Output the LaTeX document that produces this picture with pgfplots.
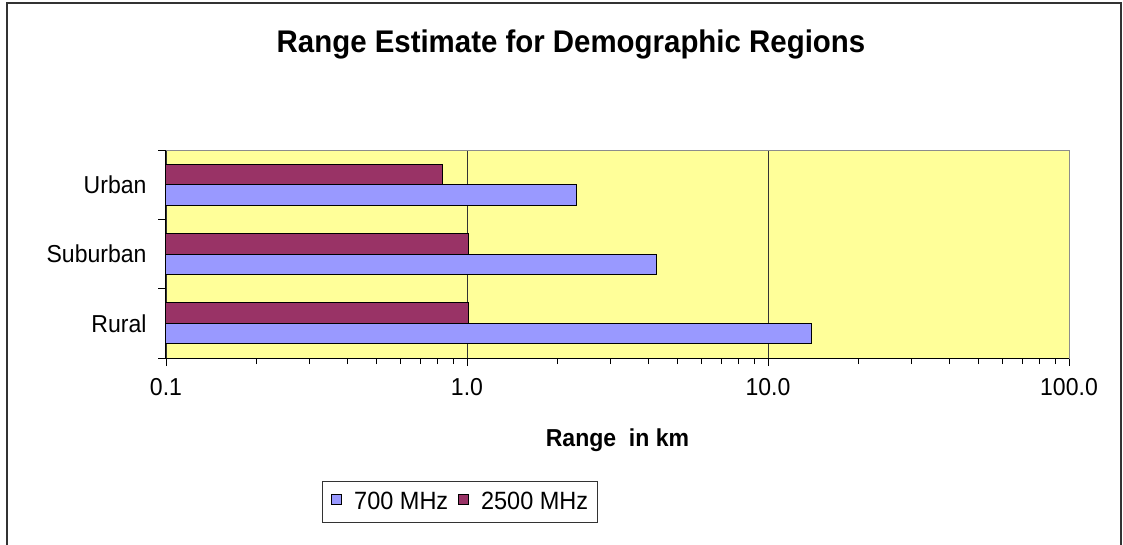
\documentclass[border=0pt]{standalone}
\usepackage{pgfplots}
\pgfplotsset{compat=1.18}
\usepackage{fontspec}
\setmainfont{Liberation Sans}[FakeStretch=0.94]
\definecolor{barblue}{HTML}{9999FF}
\definecolor{barmaroon}{HTML}{993366}
\definecolor{plotyellow}{HTML}{FFFF99}
\begin{document}
\begin{tikzpicture}[x=1pt,y=1pt]
\useasboundingbox (0,0) rectangle (1123,544);
\draw[black!80, line width=1.2pt] (7,541) rectangle (1121,-10);
\begin{axis}[
  at={(166pt,186pt)}, anchor=south west,
  scale only axis, width=903pt, height=208pt,
  xmode=log, xmin=0.1, xmax=100, ymin=-0.5, ymax=2.5,
  log origin x=infty,
  axis background/.style={fill=plotyellow},
  axis line style={draw=black!45, line width=1pt},
  xtick={0.1,1,10,100}, xticklabels={0.1,1.0,10.0,100.0},
  xtick pos=bottom, ytick pos=left, tick align=outside,
  major tick length=8pt, minor tick length=6pt,
  xtick style={black, line width=0.8pt},
  ytick={0,1,2}, yticklabels={Rural,Suburban,Urban},
  ytick style={draw=none},
  xmajorgrids, major grid style={black!80, line width=0.7pt},
  ticklabel style={font=\fontsize{24.5}{29}\selectfont},
  yticklabel style={anchor=east, xshift=-8pt},
  xticklabel style={anchor=north, yshift=-9pt},
  title={Range Estimate for Demographic Regions},
  title style={font=\fontsize{31.3}{36}\selectfont\bfseries, at={(axis description cs:0.4485,1.4375)}, anchor=base},
  xlabel={Range~~in km},
  xlabel style={font=\fontsize{24.5}{29}\selectfont\bfseries, at={(axis description cs:0.5,-0.4264)}, anchor=base},
  legend columns=2,
  legend style={at={(axis description cs:0.1728,-0.5913)}, anchor=north west,
    draw=black!80, line width=0.8pt, font=\fontsize{25}{30}\selectfont,
    inner xsep=9pt, inner ysep=11pt,
    nodes={inner sep=0pt},
    /tikz/every even column/.append style={column sep=10pt},
    /tikz/every odd column/.append style={column sep=12pt}},
  legend image code/.code={\draw[#1, draw=black, line width=0.8pt] (0pt,-3pt) rectangle (10pt,7pt);},
  after end axis/.code={
    \draw[black!45, line width=1pt] (rel axis cs:1,0) -- (rel axis cs:1,1);
    \draw[black, line width=1pt] (rel axis cs:0,1) -- (rel axis cs:0,0) -- (rel axis cs:1,0);
    \foreach \r in {0,0.33333,0.66667,1} \draw[black, line width=0.8pt] (rel axis cs:0,\r) -- ++(-8pt,0);
  },
]
\addplot[xbar, fill=barblue, draw=black, line width=1pt, bar width=0.297, bar shift=-0.1485]
  coordinates {(14.0,0) (4.26,1) (2.31,2)};
\addplot[xbar, fill=barmaroon, draw=black, line width=1pt, bar width=0.297, bar shift=0.1485]
  coordinates {(1.01,0) (1.01,1) (0.83,2)};
\legend{700 MHz,2500 MHz}
\end{axis}
\end{tikzpicture}
\end{document}
